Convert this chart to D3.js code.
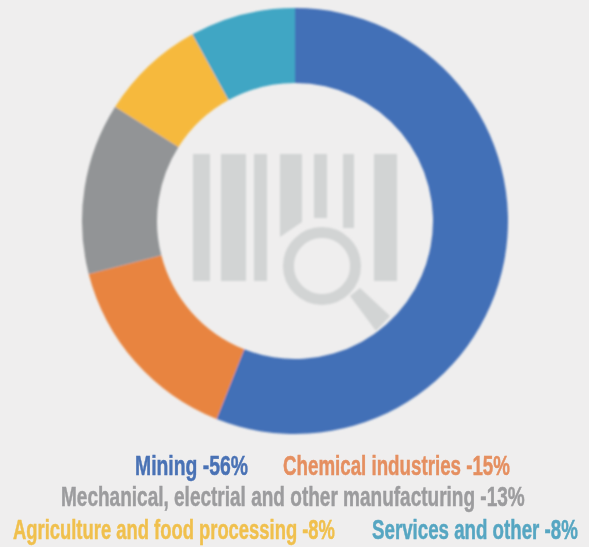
<!DOCTYPE html>
<html><head><meta charset="utf-8">
<script src="https://cdn.jsdelivr.net/npm/d3@7"></script>
<style>html,body{margin:0;padding:0;background:#efeeee;overflow:hidden}svg{display:block}</style>
</head><body><svg id="c" width="589" height="547"></svg>
<script>
const categories=["Mining","Chemical industries","Mechanical, electrial and other manufacturing","Agriculture and food processing","Services and other"];
const shares=[56,15,13,8,8];
const colors=["#4370b7","#e8843f","#929496","#f6b93c","#3fa6c4"];
const textColors=["#4a72b5","#e58f60","#9c9c9e","#f0c04e","#56a6c2"];
const legendRows=[[0,1],[2],[3,4]];

const svg=d3.select("#c");
const defs=svg.append("defs");
defs.append("filter").attr("id","soft").append("feGaussianBlur").attr("stdDeviation",0.8);
defs.append("filter").attr("id","softT").append("feGaussianBlur").attr("stdDeviation",0.7);

// Donut
const cx=295,cy=221;
const pie=d3.pie().sort(null).value(d=>d)(shares);
const arc=d3.arc().innerRadius(138).outerRadius(213);
svg.append("g").attr("transform",`translate(${cx},${cy})`).attr("filter","url(#soft)")
  .selectAll("path").data(pie).join("path").attr("d",arc).attr("fill",(d,i)=>colors[i]);

// Barcode + magnifier icon
const iconColor="#d2d4d4";
const icon=svg.append("g").attr("filter","url(#soft)");
[[193,210,281],[221,246,281],[254,267,281],[314,327,218],[343,354,228],[374,397,281]].forEach(b=>{
  icon.append("rect").attr("x",b[0]).attr("y",154).attr("width",b[1]-b[0]).attr("height",b[2]-154).attr("fill",iconColor);
});
icon.append("path").attr("d","M280 154H302V222L280 237Z").attr("fill",iconColor);
icon.append("circle").attr("cx",322).attr("cy",266).attr("r",33.5).attr("fill","#efeeee").attr("stroke",iconColor).attr("stroke-width",11);
icon.append("path").attr("d","M350 296L360 288L390 316L376 331Z").attr("fill",iconColor);

// Legend
const rowY=[475,506,539];
const rowX=[[135,283],[61],[13,372]];
const rowW=[[113,227],[464],[322,206]];
const g=svg.append("g").attr("filter","url(#softT)");
legendRows.forEach((r,ri)=>r.forEach((c,ci)=>{
  const t=g.append("text")
   .attr("font-family","'Liberation Sans Narrow','Liberation Sans',sans-serif").attr("font-weight","bold").attr("font-size",28)
   .attr("fill",textColors[c]).attr("stroke",textColors[c]).attr("stroke-width",0.5).text(`${categories[c]} -${shares[c]}%`);
  const k=rowW[ri][ci]/t.node().getComputedTextLength();
  t.attr("transform",`translate(${rowX[ri][ci]},${rowY[ri]}) scale(${k},1)`);
}));
</script></body></html>
